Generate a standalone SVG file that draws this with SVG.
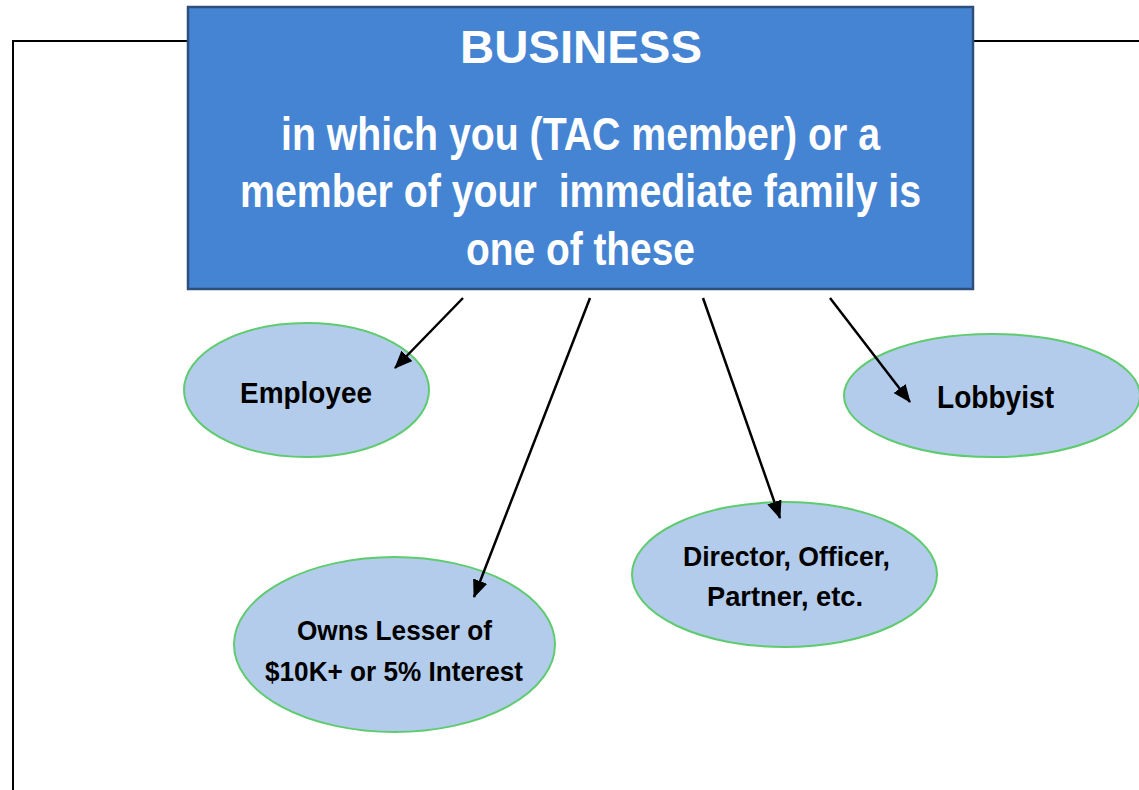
<svg xmlns="http://www.w3.org/2000/svg" width="1139" height="790" viewBox="0 0 1139 790">
<defs>
<style>
.frame{fill:none;stroke:#000;stroke-width:2}
.box{fill:#4584D3;stroke:#2C4F7E;stroke-width:2.5}
.ell{fill:#B4CCEB;stroke:#5FCB6F;stroke-width:2}
.conn{stroke:#000;stroke-width:2.5;fill:none}
.hd{font-family:"Liberation Sans",Arial,sans-serif;font-weight:bold;fill:#fff;text-anchor:middle;white-space:pre}
.lbl{font-family:"Liberation Sans",Arial,sans-serif;font-weight:bold;fill:#000;text-anchor:middle}
</style>
<marker id="arr" viewBox="0 0 18 15" refX="17" refY="7.5" markerWidth="18" markerHeight="15" markerUnits="userSpaceOnUse" orient="auto">
<path d="M0,0 L18,7.5 L0,15 Z" fill="#000"/>
</marker>
</defs>
<rect width="1139" height="790" fill="#fff"/>
<g id="frame">
<polyline class="frame" points="13,790 13,41 188,41"/>
<line class="frame" x1="973" y1="41" x2="1139" y2="41"/>
</g>
<g id="business">
<rect class="box" x="188" y="7" width="785" height="282"/>
<text class="hd" x="581" y="63" font-size="47" textLength="242" lengthAdjust="spacingAndGlyphs">BUSINESS</text>
<text class="hd" x="580.5" y="150" font-size="47" textLength="599" lengthAdjust="spacingAndGlyphs">in which you (TAC member) or a</text>
<text class="hd" x="580.5" y="207" font-size="47" textLength="681" lengthAdjust="spacingAndGlyphs" xml:space="preserve">member of your  immediate family is</text>
<text class="hd" x="580.5" y="265" font-size="47" textLength="229" lengthAdjust="spacingAndGlyphs">one of these</text>
</g>
<g id="employee">
<ellipse class="ell" cx="306.5" cy="390" rx="122.5" ry="67"/>
<text class="lbl" x="306" y="403" font-size="30" textLength="132" lengthAdjust="spacingAndGlyphs">Employee</text>
</g>
<g id="lobbyist">
<ellipse class="ell" cx="992" cy="395.5" rx="148" ry="61.5"/>
<text class="lbl" x="995.5" y="408" font-size="31" textLength="117" lengthAdjust="spacingAndGlyphs">Lobbyist</text>
</g>
<g id="director">
<ellipse class="ell" cx="784.5" cy="574.5" rx="152.5" ry="72.5"/>
<text class="lbl" x="786.5" y="566" font-size="28" textLength="207" lengthAdjust="spacingAndGlyphs">Director, Officer,</text>
<text class="lbl" x="785" y="606" font-size="28" textLength="156" lengthAdjust="spacingAndGlyphs">Partner, etc.</text>
</g>
<g id="owns">
<ellipse class="ell" cx="394.5" cy="644.5" rx="160.5" ry="87.5"/>
<text class="lbl" x="394.5" y="640" font-size="28" textLength="195" lengthAdjust="spacingAndGlyphs">Owns Lesser of</text>
<text class="lbl" x="394" y="681" font-size="28" textLength="258" lengthAdjust="spacingAndGlyphs">$10K+ or 5% Interest</text>
</g>
<g id="connectors">
<line class="conn" x1="463" y1="298" x2="395" y2="368" marker-end="url(#arr)"/>
<line class="conn" x1="590" y1="298" x2="474" y2="597" marker-end="url(#arr)"/>
<line class="conn" x1="703" y1="298" x2="780" y2="518" marker-end="url(#arr)"/>
<line class="conn" x1="830" y1="298" x2="910" y2="402" marker-end="url(#arr)"/>
</g>
</svg>
